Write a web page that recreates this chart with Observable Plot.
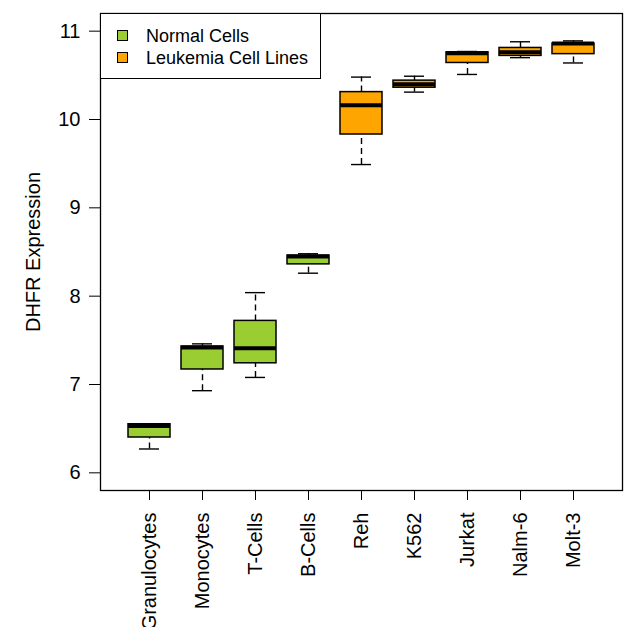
<!DOCTYPE html>
<html><head><meta charset="utf-8">
<script src="https://cdn.jsdelivr.net/npm/d3@7"></script>
<script src="https://cdn.jsdelivr.net/npm/@observablehq/plot@0.6"></script>
<style>
body{margin:0;background:#fff;}
#chart{position:relative;width:625px;height:627px;overflow:hidden;}
.legend{position:absolute;left:100px;top:13px;width:221px;height:66px;box-sizing:border-box;border:1.3px solid #000;background:#fff;font:18px "Liberation Sans",Arial,sans-serif;color:#000;}
.legend .item{position:absolute;left:16px;height:22px;line-height:22px;white-space:nowrap;}
.legend .sw{display:inline-block;width:11px;height:11px;border:1px solid #000;box-sizing:border-box;vertical-align:middle;margin-right:18px;position:relative;top:-2px;}
</style></head><body><div id="chart"></div>
<script>
const categories = ["Granulocytes","Monocytes","T-Cells","B-Cells","Reh","K562","Jurkat","Nalm-6","Molt-3"];
const groups = ["Normal Cells","Normal Cells","Normal Cells","Normal Cells","Leukemia Cell Lines","Leukemia Cell Lines","Leukemia Cell Lines","Leukemia Cell Lines","Leukemia Cell Lines"];
const lowerWhisker = [6.27, 6.93, 7.08, 8.26, 9.49, 10.31, 10.51, 10.70, 10.64];
const q1          = [6.40, 7.17, 7.24, 8.36, 9.83, 10.36, 10.64, 10.72, 10.74];
const median      = [6.53, 7.42, 7.41, 8.45, 10.16, 10.40, 10.75, 10.76, 10.86];
const q3          = [6.55, 7.43, 7.72, 8.46, 10.31, 10.44, 10.76, 10.81, 10.86];
const upperWhisker= [6.55, 7.46, 8.04, 8.48, 10.48, 10.49, 10.77, 10.88, 10.89];
const groupNames = ["Normal Cells","Leukemia Cell Lines"];
const groupColors = ["#9ACD32","#FFA500"];
const yTicks = [6,7,8,9,10,11];
const yLabel = "DHFR Expression";

const rows = categories.map((c,i)=>({category:c, group:groups[i], lo:lowerWhisker[i], q1:q1[i], med:median[i], q3:q3[i], hi:upperWhisker[i]}));
const font = '"Liberation Sans", Arial, Helvetica, sans-serif';

const plot = Plot.plot({
  width:625, height:627,
  marginLeft:100, marginRight:3, marginTop:13, marginBottom:137,
  style:{fontFamily:font, fontSize:"20px", color:"#000", background:"#fff"},
  x:{domain:categories, paddingInner:0.2, paddingOuter:0.46, label:null},
  y:{domain:[5.8,11.2], label:null},
  color:{domain:groupNames, range:groupColors},
  marks:[
    Plot.ruleX(rows,{x:"category", y1:"q3", y2:"hi", stroke:"#000", strokeWidth:1.4, strokeDasharray:"6,4"}),
    Plot.ruleX(rows,{x:"category", y1:"lo", y2:"q1", stroke:"#000", strokeWidth:1.4, strokeDasharray:"6,4"}),
    Plot.tickY(rows,{x:"category", y:"hi", stroke:"#000", strokeWidth:1.4, insetLeft:11, insetRight:11}),
    Plot.tickY(rows,{x:"category", y:"lo", stroke:"#000", strokeWidth:1.4, insetLeft:11, insetRight:11}),
    Plot.barY(rows,{x:"category", y1:"q1", y2:"q3", fill:"group", stroke:"#000", strokeWidth:1.5}),
    Plot.tickY(rows,{x:"category", y:"med", stroke:"#000", strokeWidth:4}),
    Plot.frame({stroke:"#000", strokeWidth:1.3}),
    Plot.axisY({ticks:yTicks, tickFormat:d3.format("d"), tickSize:11, tickPadding:9, label:yLabel, labelAnchor:"center", labelArrow:"none", labelOffset:75, fontSize:20}),
    Plot.axisX({tickSize:10, tickPadding:12, tickRotate:-90, label:null, fontSize:20})
  ]
});
const chart = document.getElementById("chart");
chart.appendChild(plot);

const legend = document.createElement("div");
legend.className = "legend";
groupNames.forEach((g,i)=>{
  const it = document.createElement("div");
  it.className = "item";
  it.style.top = (11 + i*22) + "px";
  const sw = document.createElement("span");
  sw.className = "sw";
  sw.style.background = groupColors[i];
  it.appendChild(sw);
  it.appendChild(document.createTextNode(g));
  legend.appendChild(it);
});
chart.appendChild(legend);
</script></body></html>
